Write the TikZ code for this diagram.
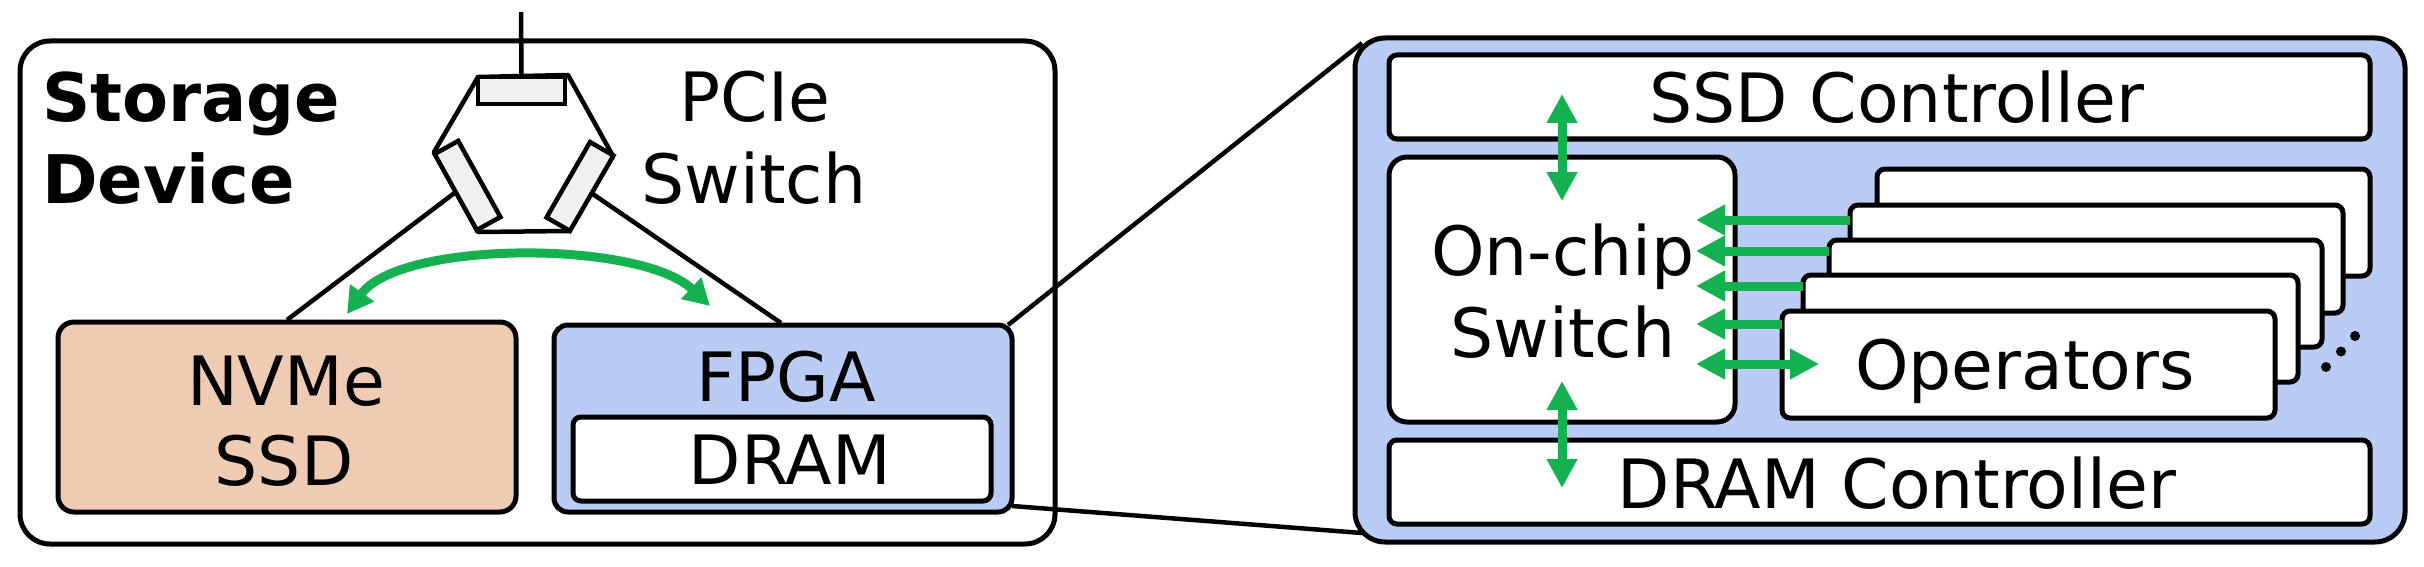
\documentclass[tikz,border=0pt]{standalone}
\usepackage{fontspec}
\setmainfont{DejaVu Sans}
\usetikzlibrary{arrows.meta,positioning}
\definecolor{panelblue}{HTML}{BACBF6}
\definecolor{ssdorange}{HTML}{F0CBB3}
\definecolor{linkgreen}{HTML}{15B04F}
\definecolor{portgrey}{HTML}{F0F0F0}
\newcommand{\boxat}[7]{% name, x1,y1,x2,y2, radius, fill
  \node[boxstyle,fill=#7,rounded corners=#6pt,minimum width={(#4-#2)*1pt},minimum height={(#5-#3)*1pt}] (#1) at ({(#2+#4)/2},{(#3+#5)/2}) {};}
\tikzset{
  boxstyle/.style={draw=black,line width=5pt,inner sep=0pt,outer sep=0pt},
  port/.style={draw=black,line width=4.5pt,fill=portgrey,inner sep=0pt,outer sep=0pt,minimum width=87pt,minimum height=27pt},
  wire/.style={draw=black,line width=4.5pt},
  txt/.style={anchor=base,inner sep=0pt,outer sep=0pt,font=\fontsize{68pt}{78pt}\selectfont},
  txtbold/.style={txt,anchor=base west,font=\fontsize{67pt}{78pt}\selectfont\bfseries},
  biarrow/.style={draw=linkgreen,line width=9pt,{Triangle[length=29pt,width=29pt]}-{Triangle[length=29pt,width=29pt]}},
  toarrow/.style={draw=linkgreen,line width=9pt,{Triangle[length=29pt,width=29pt]}-},
  arcarrow/.style={draw=linkgreen,line width=9pt,{Triangle[length=26pt,width=28pt]}-{Triangle[length=26pt,width=28pt]}},
  dotmark/.style={circle,fill=black,inner sep=0pt,minimum size=10pt},
}
\begin{document}
\begin{tikzpicture}[x=1pt,y=-1pt]
\useasboundingbox (0,0) rectangle (2424,567);
% storage device
\boxat{storage}{20}{41}{1055}{544}{30}{white}
% PCIe switch
\draw[line width=4.5pt,line join=round,fill=white] (478,77) -- (568,75) -- (613,156) -- (569,231) -- (478,232) -- (434,152) -- cycle;
\node[port] (portT) at (521.5,90.5) {};
\node[port,rotate=-61] (portL) at (467.5,185.5) {};
\node[port,rotate=60] (portR) at (580,186.5) {};
\coordinate (uplink) at (521,12);
\draw[wire] (uplink) -- (portT.north);
% NVMe + FPGA
\boxat{nvme}{58}{322}{516}{512}{16}{ssdorange}
\boxat{fpga}{554}{325}{1012}{512}{14}{panelblue}
\boxat{dram}{573}{417}{991}{501}{8}{white}
\coordinate (nvmeIn) at (287,320);
\coordinate (fpgaIn) at (781,323);
\draw[wire] (nvmeIn) -- (portL.south);
\draw[wire] (fpgaIn) -- (portR.south);
% zoom lines
\coordinate (zoomA) at (1008,325);
\coordinate (zoomB) at (1012,506);
\coordinate (zoomC) at (1362,43);
\coordinate (zoomD) at (1362,533);
\draw[wire] (zoomA) -- (zoomC);
\draw[wire] (zoomB) -- (zoomD);
% detail panel
\boxat{panel}{1355}{38}{2405}{542}{30}{panelblue}
\boxat{ssdc}{1389}{55}{2370}{139}{8}{white}
\boxat{dramc}{1389}{440}{2370}{524}{8}{white}
\boxat{onchip}{1389}{157}{1735}{422}{18}{white}
\boxat{op5}{1877}{169}{2370}{276}{8}{white}
\boxat{op4}{1850}{205}{2343}{313}{8}{white}
\boxat{op3}{1829}{240}{2322}{347}{8}{white}
\boxat{op2}{1803}{275}{2298}{382}{8}{white}
\boxat{op1}{1782}{311}{2275}{418}{8}{white}
\node[dotmark] (d1) at (2355,336) {};
\node[dotmark] (d2) at (2341,351.5) {};
\node[dotmark] (d3) at (2326,367) {};
% text
\node[txtbold] (tStorage) at (42,122) {Storage};
\node[txtbold] (tDevice) at (42,203) {Device};
\node[txt] (tPCIe) at (755,122) {PCIe};
\node[txt] (tSwitch) at (754,203) {Switch};
\node[txt] (tNVMe) at (286,405) {NVMe};
\node[txt] (tSSD) at (284,485.5) {SSD};
\node[txt] (tFPGA) at (786,401) {FPGA};
\node[txt] (tDRAM) at (790,484) {DRAM};
\node[txt] (tSSDC) at (1897,123) {SSD Controller};
\node[txt] (tOn) at (1563,275) {On-chip};
\node[txt] (tSw) at (1563,357) {Switch};
\node[txt] (tDRAMC) at (1897,508) {DRAM Controller};
\node[txt] (tOps) at (2025,389) {Operators};
% green arrows
\coordinate (arcL) at (347,314);
\coordinate (arcR) at (710,306);
\draw[arcarrow] (arcL) .. controls (400,240) and (640,240) .. (arcR);
\coordinate (vTopA) at (1562,94);
\coordinate (vTopB) at (1562,201);
\coordinate (vBotA) at (1562,381);
\coordinate (vBotB) at (1562,488);
\draw[biarrow] (vTopA) -- (vTopB);
\draw[biarrow] (vBotA) -- (vBotB);
\coordinate (h4) at (1696,220);
\coordinate (h3) at (1696,251);
\coordinate (h2) at (1696,286);
\coordinate (h1) at (1696,324);
\coordinate (h0) at (1696,364);
\coordinate (h0e) at (1819,364);
\draw[toarrow] (h4) -- (h4 -| op4.west);
\draw[toarrow] (h3) -- (h3 -| op3.west);
\draw[toarrow] (h2) -- (h2 -| op2.west);
\draw[toarrow] (h1) -- (h1 -| op1.west);
\draw[biarrow] (h0) -- (h0e);
\end{tikzpicture}
\end{document}
